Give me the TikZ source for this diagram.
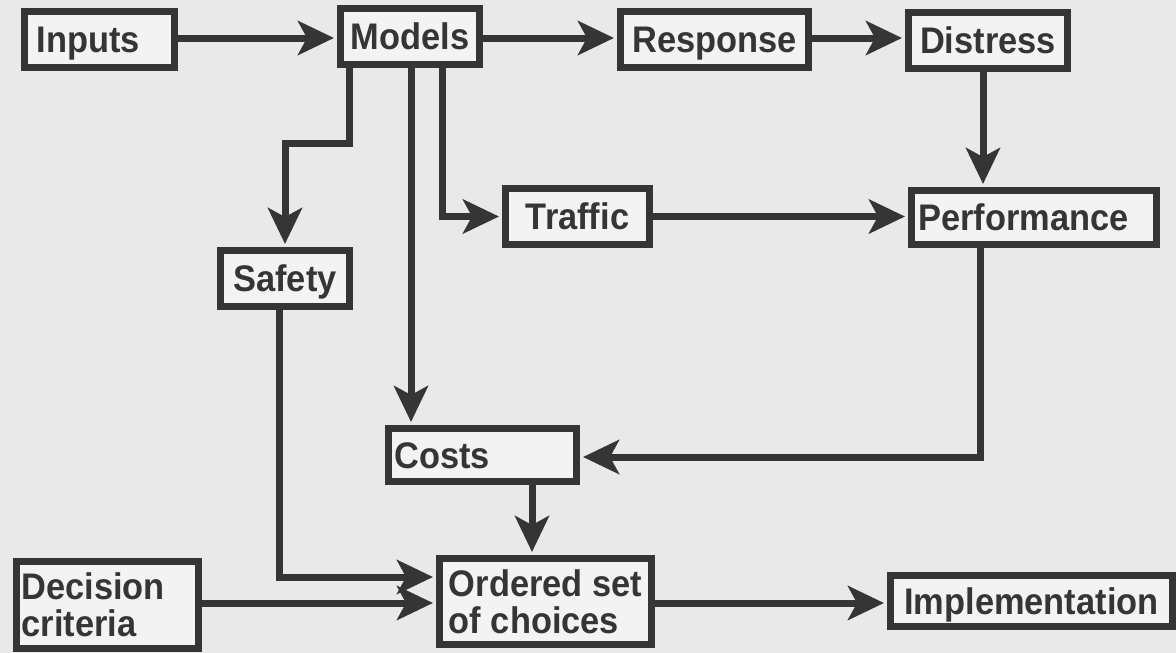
\documentclass[tikz,border=0pt]{standalone}
\usepackage{fontspec}
\newfontfamily\labfont{Liberation Sans}[FakeStretch=0.93]
\usetikzlibrary{arrows.meta}
\definecolor{bg}{HTML}{E9E9E9}
\definecolor{boxfill}{HTML}{F3F3F3}
\definecolor{ink}{HTML}{353535}
\begin{document}
\begin{tikzpicture}[x=1pt,y=-1pt,
  box/.style={draw=ink, line width=7pt, fill=boxfill, inner sep=0pt, text=ink,
    font=\labfont\bfseries\fontsize{37}{37}\selectfont},
  one/.style={text height=26.5pt, text depth=0pt},
  arr/.style={draw=ink, line width=7pt, line join=miter,
    -{Stealth[length=36pt,width=34pt,inset=9pt]}, shorten >=3pt},
]
\useasboundingbox (0,0) rectangle (1176,653);
\fill[bg] (0,0) rectangle (1176,653);

% boxes
\node[box,one,align=left,text width=126pt,inner xsep=12pt,minimum height=56pt] (inputs) at (99.5,39.5) {Inputs};
\node[box,one,minimum width=139pt,minimum height=56pt] (models) at (410,36.5) {Models};
\node[box,one,minimum width=188pt,minimum height=56pt] (response) at (714.5,39.5) {Response};
\node[box,one,minimum width=159pt,minimum height=56pt] (distress) at (988,40.5) {Distress};
\node[box,one,minimum width=144pt,minimum height=56pt] (traffic) at (577.5,216.5) {Traffic};
\node[box,one,align=left,text width=231pt,inner xsep=7pt,minimum height=54pt] (performance) at (1034,217.5) {Performance};
\node[box,one,minimum width=129pt,minimum height=56pt] (safety) at (285,278.5) {Safety};
\node[box,one,align=left,text width=176pt,inner xsep=6pt,minimum height=53pt] (costs) at (482.5,455) {Costs};
\node[box,align=left,minimum width=212pt,minimum height=86pt] (ordered) at (545.5,601.5) {Ordered set\\of choices};
\node[box,align=left,text width=172pt,inner xsep=5pt,minimum height=87pt] (decision) at (107.5,605) {Decision\\criteria};
\node[box,one,minimum width=282pt,minimum height=51pt] (implementation) at (1031.5,601) {Implementation};

% helper coordinates
\coordinate (ytop) at (0,38);
\coordinate (sbend) at (349,143);
\coordinate (cx) at (411,300);
\coordinate (tbend) at (442,216.5);
\coordinate (dx) at (983,120);
\coordinate (pbend) at (980,457);
\coordinate (ox) at (532,520);
\coordinate (sfbend) at (279,577);
\coordinate (ydec) at (0,603);

% connectors
\draw[arr] (inputs.east |- ytop) -- (models.west |- ytop);
\draw[arr] (models.east |- ytop) -- (response.west |- ytop);
\draw[arr] (response.east |- ytop) -- (distress.west |- ytop);
\draw[arr] (distress.south -| dx) -- (performance.north -| dx);
\draw[arr] (traffic.east) -- (performance.west |- traffic.east);
\draw[arr] (models.south -| sbend) -- (sbend) -| (safety.north);
\draw[arr] (models.south -| cx) -- (costs.north -| cx);
\draw[arr] (models.south -| tbend) -- (tbend) -- (traffic.west);
\draw[arr] (performance.south -| pbend) -- (pbend) -- (costs.east |- pbend);
\draw[arr] (costs.south -| ox) -- (ordered.north -| ox);
\draw[arr] (safety.south -| sfbend) -- (sfbend) -- (ordered.west |- sfbend);
\draw[arr] (decision.east |- ydec) -- (ordered.west |- ydec);
\draw[arr] (ordered.east |- ydec) -- (implementation.west |- ydec);
\end{tikzpicture}
\end{document}
